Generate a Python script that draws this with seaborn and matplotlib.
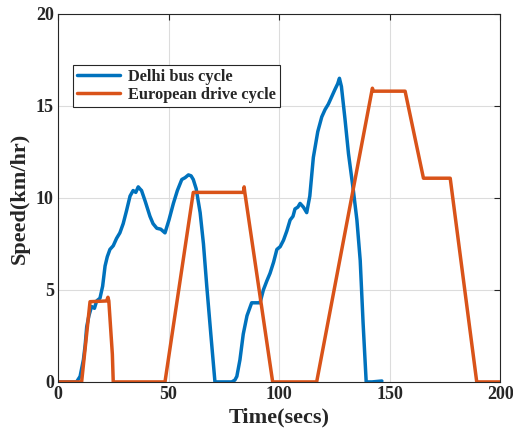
import numpy as np
import pandas as pd
import matplotlib
matplotlib.use("Agg")
import matplotlib.pyplot as plt
import seaborn as sns

# Delhi bus cycle (time in s, speed in km/hr)
delhi_t = [0, 8.4, 10.0, 11.5, 12.3, 13.0, 14.0, 15.2, 16.5, 17.5, 19.0, 20.2, 21.3, 22.3, 23.5,
           25.0, 26.5, 28.0, 29.5, 31.0, 32.6, 34.0, 35.2, 36.3, 37.0, 37.8, 39.5, 41.6, 43.0,
           44.7, 46.5, 48.4, 50.2, 52.2, 54.0, 56.0, 57.5, 59.0, 60.2, 61.2, 62.5, 64.3, 65.8,
           67.3, 69.2, 71.0, 74.0, 78.6, 80.0, 80.9, 82.3, 83.8, 85.5, 87.6, 89.5, 91.4, 92.9,
           94.5, 95.9, 97.5, 99.0, 100.5, 102.0, 103.5, 105.0, 106.3, 107.2, 108.5, 109.5,
           111.0, 112.5, 113.9, 115.5, 117.5, 119.3, 120.8, 122.3, 123.8, 125.3, 126.5, 127.3,
           128.2, 129.8, 131.4, 133.6, 135.2, 136.7, 138.0, 139.4, 142.0, 146.5]
delhi_v = [0, 0, 0.3, 1.2, 2.0, 3.0, 3.6, 4.1, 4.0, 4.4, 4.55, 5.2, 6.3, 6.8, 7.2,
           7.4, 7.8, 8.1, 8.6, 9.3, 10.1, 10.4, 10.3, 10.6, 10.5, 10.4, 9.8, 9.0, 8.6,
           8.35, 8.3, 8.1, 8.8, 9.7, 10.4, 11.0, 11.1, 11.25, 11.2, 11.0, 10.5, 9.2, 7.5,
           5.2, 2.5, 0, 0, 0, 0.1, 0.3, 1.2, 2.6, 3.6, 4.3, 4.3, 4.3, 5.0,
           5.5, 5.9, 6.5, 7.2, 7.35, 7.7, 8.2, 8.8, 9.0, 9.4, 9.5, 9.7,
           9.5, 9.2, 10.1, 12.2, 13.6, 14.4, 14.8, 15.1, 15.5, 15.9, 16.2, 16.5,
           16.05, 14.3, 12.4, 10.4, 8.8, 6.6, 3.2, 0, 0, 0.05]

# European drive cycle
euro_t = [0, 10.7, 14.5, 22.0, 22.6, 23.0, 24.6, 25.0, 48.4, 61.2, 83.9, 84.2, 84.5, 97.1,
          117.0, 142.2, 142.7, 157.0, 165.3, 177.4, 189.4, 200]
euro_v = [0, 0, 4.36, 4.4, 4.6, 4.4, 1.5, 0, 0, 10.3, 10.3, 10.6, 10.3, 0,
          0, 15.96, 15.8, 15.8, 11.07, 11.07, 0, 0]

labels = ["Delhi bus cycle", "European drive cycle"]

df = pd.concat([
    pd.DataFrame({"t": delhi_t, "v": delhi_v, "cycle": labels[0]}),
    pd.DataFrame({"t": euro_t, "v": euro_v, "cycle": labels[1]}),
], ignore_index=True)

sns.set_style("white")
plt.rcParams["font.family"] = ["Liberation Serif", "DejaVu Serif"]
plt.rcParams["font.weight"] = "bold"

fig = plt.figure(figsize=(5.13, 4.34), dpi=100)
ax = fig.add_axes([0.113, 0.12, 0.862, 0.848])

sns.lineplot(data=df, x="t", y="v", hue="cycle", hue_order=labels,
             palette=["#0072BD", "#D95319"], linewidth=2.5, sort=False,
             estimator=None, ax=ax)

ax.set_xlim(0, 200)
ax.set_ylim(0, 20)
ax.set_xticks([0, 50, 100, 150, 200])
ax.set_yticks([0, 5, 10, 15, 20])
ax.grid(True, color="#dcdcdc", linewidth=0.8)
ax.set_axisbelow(True)
for s in ax.spines.values():
    s.set_color("#262626")
    s.set_linewidth(0.8)
ax.tick_params(direction="in", length=4, width=0.8, top=True, right=True,
               labelsize=13, colors="#262626", pad=3)
for lab in ax.get_xticklabels() + ax.get_yticklabels():
    lab.set_fontweight("bold")
ax.set_xlabel("Time(secs)", fontsize=16, fontweight="bold", labelpad=3)
ax.set_ylabel("Speed(km/hr)", fontsize=16, fontweight="bold", labelpad=4)

leg = ax.legend(loc="upper left", bbox_to_anchor=(0.034, 0.862), borderaxespad=0,
                fontsize=11.8, frameon=True, fancybox=False, edgecolor="#262626",
                framealpha=1, handlelength=2.6, borderpad=0.25, labelspacing=0.12,
                handletextpad=0.5)
leg.get_frame().set_linewidth(0.8)
for t in leg.get_texts():
    t.set_fontweight("bold")

fig.savefig("out.png", dpi=100)
